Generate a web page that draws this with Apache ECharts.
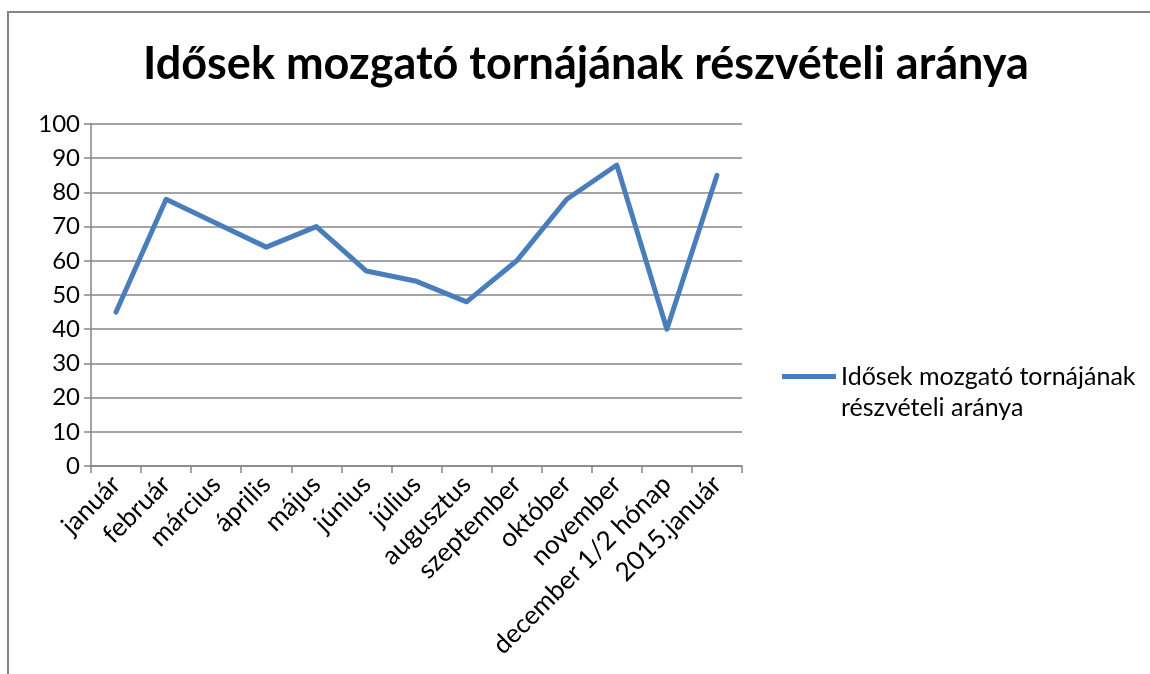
<!DOCTYPE html>
<html>
<head>
<meta charset="utf-8">
<script src="https://cdn.jsdelivr.net/npm/echarts@6/dist/echarts.min.js"></script>
<style>
  html, body { margin: 0; padding: 0; background: #fff; }
  #chart { width: 1150px; height: 674px; }
</style>
</head>
<body>
<div id="chart"></div>
<script>
// adatok
var categories = ["január", "február", "március", "április", "május", "június", "július",
  "augusztus", "szeptember", "október", "november", "december 1/2 hónap", "2015.január"];
var values = [45, 78, 71, 64, 70, 57, 54, 48, 60, 78, 88, 40, 85];
var seriesName = "Idősek mozgató tornájának részvételi aránya";

(function () {
  var myChart = echarts.init(document.getElementById('chart'));
  var font = 'Lato, "Open Sans", sans-serif';
  var gray = "#868686";

  var option = {
    animation: false,
    textStyle: { fontFamily: font },
    title: {
      text: seriesName,
      left: 138,
      top: 37,
      textStyle: { fontFamily: font, fontSize: 45, fontWeight: 'bold', color: '#000' }
    },
    // keret
    graphic: [{
      type: 'rect',
      shape: { x: 8, y: 12, width: 1300, height: 900 },
      style: { fill: 'none', stroke: gray, lineWidth: 2 },
      silent: true
    }],
    legend: {
      left: 777,
      top: 325,
      orient: 'vertical',
      icon: 'rect',
      itemWidth: 54,
      itemHeight: 5,
      itemGap: 4,
      // üres első sor, hogy a jel az első szövegsorhoz igazodjon
      formatter: function () {
        return " \nIdősek mozgató tornájának\nrészvételi aránya";
      },
      textStyle: {
        fontFamily: font,
        fontSize: 25,
        color: '#000',
        lineHeight: 31
      }
    },
    grid: {
      left: 91,
      right: 408,
      top: 124,
      bottom: 208,
      containLabel: false
    },
    xAxis: {
      type: 'category',
      data: categories,
      boundaryGap: true,
      axisLine: { show: true, lineStyle: { color: gray, width: 1.5 } },
      axisTick: { show: true, length: 7, interval: 0, lineStyle: { color: gray, width: 1.5 } },
      axisLabel: {
        interval: 0,
        rotate: 45,
        margin: 14,
        fontFamily: font,
        fontSize: 26,
        color: '#000'
      }
    },
    yAxis: {
      type: 'value',
      min: 0,
      max: 100,
      interval: 10,
      axisLine: { show: true, lineStyle: { color: gray, width: 1.5 } },
      axisTick: { show: true, length: 7, lineStyle: { color: gray, width: 1.5 } },
      axisLabel: { margin: 11, fontFamily: font, fontSize: 24, color: '#000' },
      splitLine: { show: true, lineStyle: { color: gray, width: 1.5 } }
    },
    series: [{
      name: seriesName,
      type: 'line',
      data: values,
      showSymbol: false,
      symbol: 'none',
      color: '#4a7ebb',
      lineStyle: { width: 5, color: '#4a7ebb', cap: 'round', join: 'round' }
    }]
  };

  myChart.setOption(option);
  window.addEventListener("resize", function () {
    myChart.resize();
  });
})();
</script>
</body>
</html>
